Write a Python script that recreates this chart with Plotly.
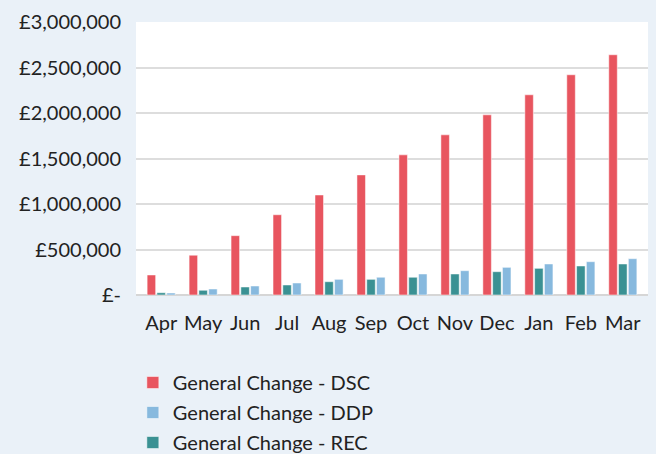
import plotly.graph_objects as go

months = ["Apr", "May", "Jun", "Jul", "Aug", "Sep", "Oct", "Nov", "Dec", "Jan", "Feb", "Mar"]
dsc = [220000, 437000, 652000, 882000, 1099000, 1320000, 1540000, 1760000, 1980000, 2200000, 2420000, 2640000]
rec = [25000, 52000, 88000, 110000, 146000, 172000, 195000, 231000, 256000, 293000, 319000, 341000]
ddp = [22000, 66000, 99000, 132000, 172000, 195000, 231000, 267000, 304000, 341000, 366000, 399000]
ytick_vals = [0, 500000, 1000000, 1500000, 2000000, 2500000, 3000000]
ytick_text = ["£-", "£500,000", "£1,000,000", "£1,500,000", "£2,000,000", "£2,500,000", "£3,000,000"]

bg = "#EAF1F8"
font = "Lato, 'Open Sans', sans-serif"
edge = dict(color="rgba(255,255,255,0.5)", width=1)

fig = go.Figure()
fig.add_trace(go.Bar(x=months, y=dsc, name="General Change - DSC", marker=dict(color="#E8555F", line=edge),
                     legendrank=1, legendgroup="a"))
fig.add_trace(go.Bar(x=months, y=rec, name="General Change - REC", marker=dict(color="#3A9193", line=edge),
                     legendrank=3, legendgroup="c"))
fig.add_trace(go.Bar(x=months, y=ddp, name="General Change - DDP", marker=dict(color="#87B9DE", line=edge),
                     legendrank=2, legendgroup="b"))

fig.update_layout(
    width=656, height=454,
    margin=dict(l=136, r=8, t=22, b=159, autoexpand=False),
    paper_bgcolor=bg, plot_bgcolor="white",
    font=dict(family=font, size=20, color="#222222"),
    barmode="group", bargap=0.3, bargroupgap=0.13,
    showlegend=True,
    legend=dict(orientation="v", x=0.2025, xref="container", xanchor="left",
                y=0.2004, yref="container", yanchor="top",
                bgcolor="rgba(0,0,0,0)", font=dict(size=20), traceorder="grouped", tracegroupgap=1),
)
fig.update_xaxes(range=[-0.6, 11.6], showgrid=False, ticks="outside", ticklen=10, tickcolor=bg, showline=False)
fig.update_yaxes(range=[0, 3000000], tickvals=ytick_vals, ticktext=ytick_text,
                 showgrid=True, gridcolor="#DDDDDD", gridwidth=2, zeroline=True, zerolinecolor="#D6D6D6",
                 zerolinewidth=2, ticklabelstandoff=14, showline=False)

fig.write_html("out.html", config={"displayModeBar": False},
               post_script="document.body.style.margin='0';document.body.style.overflow='hidden';")
